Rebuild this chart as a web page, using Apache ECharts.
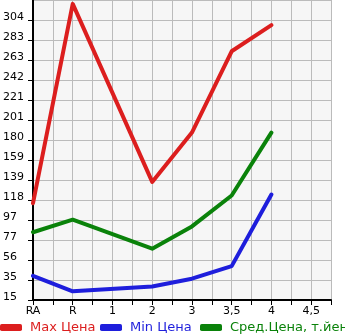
<!DOCTYPE html>
<html>
<head>
<meta charset="utf-8">
<script src="https://cdn.jsdelivr.net/npm/echarts@6/dist/echarts.min.js"></script>
<style>
  html, body { margin: 0; padding: 0; background: #fff; }
  #chart { width: 345px; height: 335px; }
</style>
</head>
<body>
<div id="chart"></div>
<script>
// категории по оси X (шаг 0.5 между ними - пустые промежуточные линии)
var categories = ['RA', 'R', '1', '2', '3', '3,5', '4', '4,5'];
var maxPrice = [115, 321, null, 137, 188, 272, 299, null];
var minPrice = [40, 24, null, 29, 37, 50, 124, null];
var avgPrice = [85, 98, null, 68, 91, 123, 188, null];
var yMin = 15, yMax = 325;

(function () {
    var chart = echarts.init(document.getElementById('chart'));

    function points(arr) {
        var out = [];
        arr.forEach(function (v, i) {
            if (v !== null) out.push([i, v]);
        });
        return out;
    }

    function line(name, color, arr) {
        return {
            name: name,
            type: 'line',
            data: points(arr),
            showSymbol: false,
            symbol: 'none',
            lineStyle: { color: color, width: 4, cap: 'round', join: 'round' },
            itemStyle: { color: color }
        };
    }

    // одна легенда на серию, чтобы не переносилась на вторую строку
    function legendItem(name, color, left) {
        return {
            left: left,
            top: 321,
            padding: 0,
            itemWidth: 22,
            itemHeight: 7,
            icon: 'roundRect',
            textStyle: { fontSize: 13, fontFamily: 'DejaVu Sans', color: color, padding: [0, 0, 0, 3] },
            data: [name]
        };
    }

    var red = '#dc1e1e', blue = '#1e1edc', green = '#0a820a';
    var names = ['Max Цена', 'Min Цена', 'Сред.Цена, т.йен'];

    var option = {
        animation: false,
        textStyle: { fontFamily: 'DejaVu Sans' },
        grid: { left: 31, top: 0, right: 14, bottom: 35, show: true, backgroundColor: '#f6f6f6', borderWidth: 0 },
        legend: [
            legendItem(names[0], red, 0),
            legendItem(names[1], blue, 100),
            legendItem(names[2], green, 200)
        ],
        xAxis: {
            type: 'value',
            min: 0,
            max: 7.5,
            interval: 0.5,
            axisLine: { show: true, lineStyle: { color: '#000', width: 2 } },
            axisTick: { show: true, length: 5, lineStyle: { color: '#000' } },
            axisLabel: {
                color: '#000', fontSize: 11, margin: 6,
                showMaxLabel: true,
                formatter: function (v) {
                    return Number.isInteger(v) ? categories[v] : '';
                }
            },
            splitLine: { show: true, lineStyle: { color: '#bbbbbb', width: 1 } }
        },
        yAxis: {
            type: 'value',
            min: yMin,
            max: yMax,
            interval: (yMax - yMin) / 15,
            axisLine: { show: true, lineStyle: { color: '#000', width: 2 } },
            axisTick: { show: true, length: 5, lineStyle: { color: '#000' } },
            axisLabel: {
                color: '#000', fontSize: 11, margin: 30, align: 'left',
                verticalAlign: 'bottom', lineHeight: 6,
                showMaxLabel: false,
                formatter: function (v) { return Math.floor(v + 1e-6); }
            },
            splitLine: { show: true, lineStyle: { color: '#bbbbbb', width: 1 } }
        },
        series: [
            line(names[0], red, maxPrice),
            line(names[1], blue, minPrice),
            line(names[2], green, avgPrice)
        ]
    };

    chart.setOption(option);
    window.addEventListener('resize', function () {
        chart.resize();
    });
})();
</script>
</body>
</html>
